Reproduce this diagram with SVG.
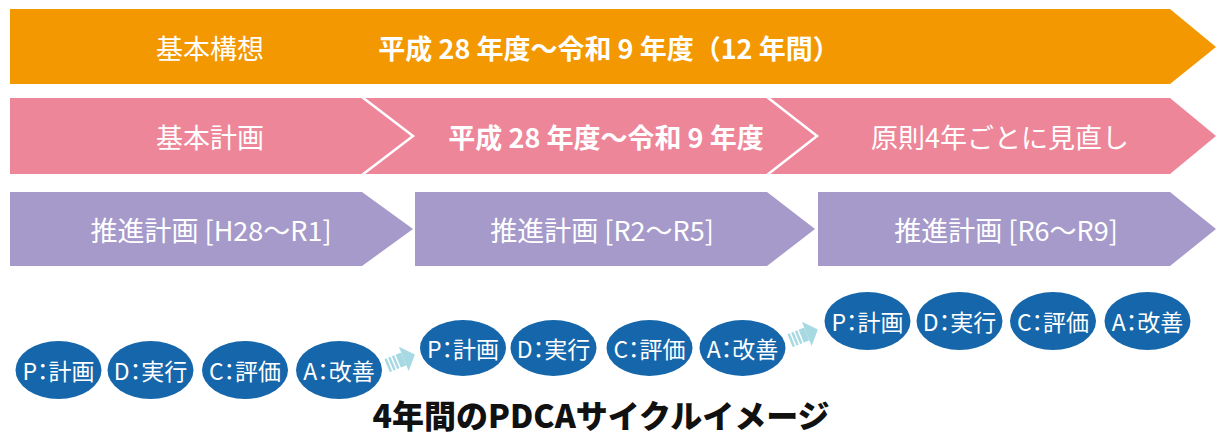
<svg xmlns="http://www.w3.org/2000/svg" width="1217" height="437" viewBox="0 0 1217 437">
<style>
.t{font-family:"Noto Sans CJK JP","Noto Sans",sans-serif;fill:#fff;text-anchor:middle;dominant-baseline:central}
.bar{font-size:27px}
.b{font-weight:700}
.orange{fill:#f39800}
.pink{fill:#ee869a}
.purple{fill:#a59aca}
.chev{fill:none;stroke:#fff;stroke-width:2.5}
.ell{fill:#1566aa}
.pd{font-size:23px;font-feature-settings:"palt"}
.arr{fill:#a6d9e2}
.cap{font-family:"Noto Sans CJK JP",sans-serif;font-weight:900;font-size:32px;fill:#111;text-anchor:middle}
</style>
<defs>
<g id="sarrow">
<rect x="-15" y="-7" width="2.5" height="14"/>
<rect x="-11" y="-7" width="2.5" height="14"/>
<rect x="-7" y="-7" width="2.5" height="14"/>
<rect x="-3" y="-7" width="6" height="14"/>
<polygon points="3,-13 15,0 3,13"/>
</g>
</defs>
<g id="kihon-kousou">
<polygon class="orange" points="10,9 1170,9 1216,47 1170,84 10,84"/>
<text class="t bar" x="210" y="47">基本構想</text>
<text class="t bar b" x="609" y="47">平成 28 年度～令和 9 年度（12 年間）</text>
</g>
<g id="kihon-keikaku">
<polygon class="pink" points="10,98 1170,98 1216,136 1170,174 10,174"/>
<polyline class="chev" points="362,97 413,136 362,175"/>
<polyline class="chev" points="767,97 817,136 767,175"/>
<text class="t bar" x="210" y="136">基本計画</text>
<text class="t bar b" x="606" y="136">平成 28 年度～令和 9 年度</text>
<text class="t bar" x="1000" y="136">原則4年ごとに見直し</text>
</g>
<g id="suishin-1">
<polygon class="purple" points="10,192 362,192 413,229 362,266 10,266"/>
<text class="t bar" x="211" y="229">推進計画 [H28～R1]</text>
</g>
<g id="suishin-2">
<polygon class="purple" points="415,192 767,192 815,229 767,266 415,266"/>
<text class="t bar" x="602" y="229">推進計画 [R2～R5]</text>
</g>
<g id="suishin-3">
<polygon class="purple" points="818,192 1170,192 1216,229 1170,266 818,266"/>
<text class="t bar" x="1006" y="229">推進計画 [R6～R9]</text>
</g>
<g id="pdca-1">
<ellipse class="ell" cx="58.5" cy="370" rx="43" ry="29"/>
<text class="t pd" x="58.5" y="370">P：計画</text>
<ellipse class="ell" cx="150.5" cy="370" rx="43" ry="29"/>
<text class="t pd" x="150.5" y="370">D：実行</text>
<ellipse class="ell" cx="245" cy="370" rx="43" ry="29"/>
<text class="t pd" x="245" y="370">C：評価</text>
<ellipse class="ell" cx="339" cy="370" rx="43" ry="29"/>
<text class="t pd" x="339" y="370">A：改善</text>
</g>
<g id="pdca-2">
<ellipse class="ell" cx="463" cy="348" rx="43" ry="28"/>
<text class="t pd" x="463" y="348">P：計画</text>
<ellipse class="ell" cx="553.5" cy="348" rx="43" ry="28"/>
<text class="t pd" x="553.5" y="348">D：実行</text>
<ellipse class="ell" cx="649.5" cy="348" rx="43" ry="28"/>
<text class="t pd" x="649.5" y="348">C：評価</text>
<ellipse class="ell" cx="742.5" cy="348" rx="43" ry="28"/>
<text class="t pd" x="742.5" y="348">A：改善</text>
</g>
<g id="pdca-3">
<ellipse class="ell" cx="867.5" cy="321" rx="43" ry="29"/>
<text class="t pd" x="867.5" y="321">P：計画</text>
<ellipse class="ell" cx="959.5" cy="321" rx="43" ry="29"/>
<text class="t pd" x="959.5" y="321">D：実行</text>
<ellipse class="ell" cx="1053" cy="321" rx="43" ry="29"/>
<text class="t pd" x="1053" y="321">C：評価</text>
<ellipse class="ell" cx="1147.5" cy="321" rx="43" ry="29"/>
<text class="t pd" x="1147.5" y="321">A：改善</text>
</g>
<g id="connectors" class="arr">
<use href="#sarrow" transform="translate(401,360) rotate(-22)"/>
<use href="#sarrow" transform="translate(804,335) rotate(-22)"/>
</g>
<g id="caption">
<text class="cap" x="601" y="428">4年間のPDCAサイクルイメージ</text>
</g>
</svg>
